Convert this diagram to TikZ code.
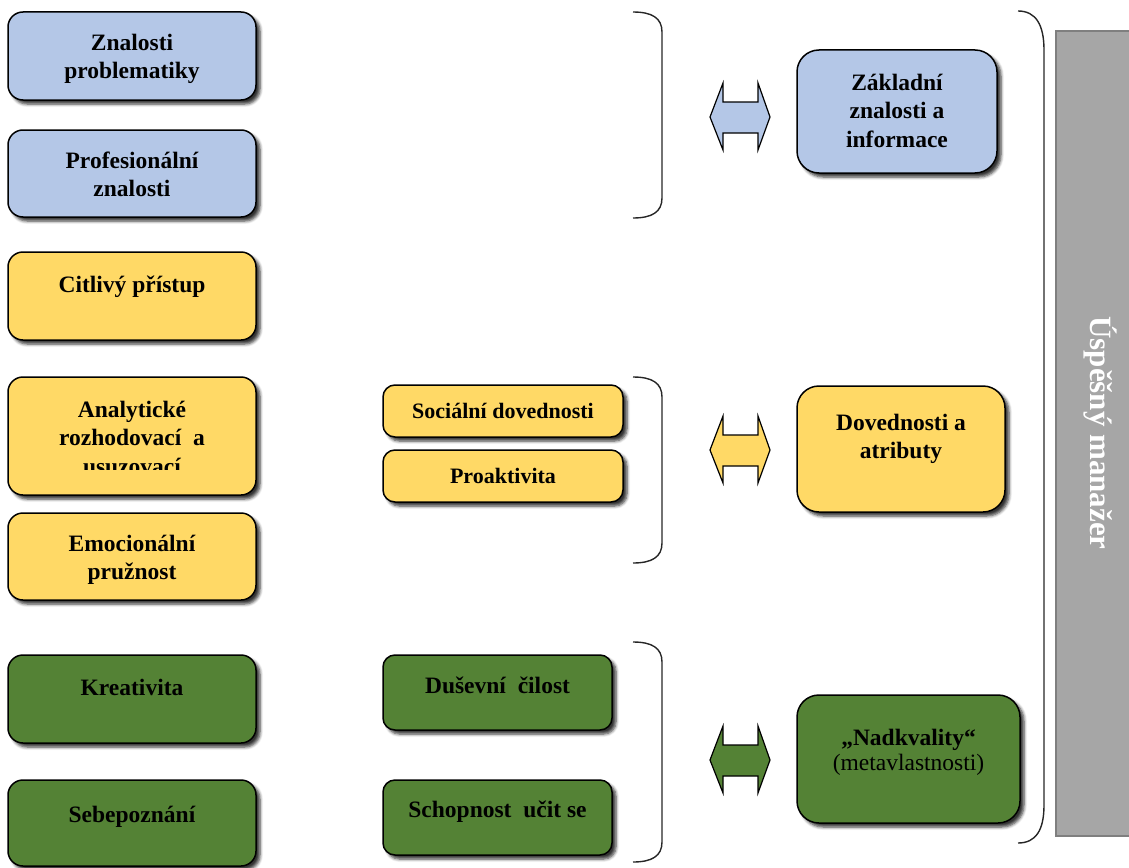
\documentclass[tikz,border=0pt]{standalone}
\usepackage{fontspec}
\setmainfont{Liberation Serif}
\usetikzlibrary{shadows.blur}

\definecolor{kblue}{HTML}{B4C7E7}
\definecolor{kyellow}{HTML}{FFD966}
\definecolor{kgreen}{HTML}{548235}
\definecolor{kgray}{HTML}{A6A6A6}
\definecolor{kgrayline}{HTML}{7F7F7F}

% invisible strut fixing the height of the first text line
\newcommand{\Ltop}{\rule{0pt}{24pt}}

\tikzset{
  card/.style={draw=black, line width=1.5pt, rectangle, rounded corners=15pt,
    inner sep=0pt,
    blur shadow={shadow xshift=4pt, shadow yshift=-4pt, shadow blur steps=5,
      shadow blur radius=3pt, shadow opacity=80}},
  bigcard/.style={card, rounded corners=22pt},
  smallcard/.style={card, rounded corners=12pt},
  lbl/.style={inner sep=0pt, align=center, anchor=north,
    font=\fontsize{23.5}{28.5}\selectfont\bfseries},
  smalllbl/.style={lbl, font=\fontsize{22}{28}\selectfont\bfseries},
  brace/.style={draw=black!85, line width=1.4pt},
  dblarrow/.pic={
    \path[pic actions] (-30,0) -- (-17,-34) -- (-17,-15) -- (18,-15) -- (18,-34)
      -- (30,0) -- (18,33) -- (18,16) -- (-17,16) -- (-17,33) -- cycle;
  }
}

\begin{document}
\begin{tikzpicture}[x=1pt,y=-1pt]
\useasboundingbox (0,0) rectangle (1129,867);

% ---- left column ----
\node[card, fill=kblue, minimum width=248pt, minimum height=88pt] (zn) at (132,56) {};
\node[lbl] (znt) at (132,26) {\Ltop Znalosti\\problematiky};

\node[card, fill=kblue, minimum width=248pt, minimum height=87pt] (pz) at (132,173.5) {};
\node[lbl] (pzt) at (132,144) {\Ltop Profesionální\\znalosti};

\node[card, fill=kyellow, minimum width=248pt, minimum height=88pt] (cp) at (132,296) {};
\node[lbl] (cpt) at (132,268) {\Ltop Citlivý přístup};

\node[card, fill=kyellow, minimum width=248pt, minimum height=118pt] (an) at (132,436) {};
\begin{scope}
  \clip (12,380) rectangle (252,469);
  \node[lbl] (ant) at (132,393) {\Ltop Analytické\\rozhodovací\ \ a\\usuzovací};
\end{scope}

\node[card, fill=kyellow, minimum width=248pt, minimum height=87pt] (em) at (132,556.5) {};
\node[lbl] (emt) at (132,527) {\Ltop Emocionální\\pružnost};

\node[card, fill=kgreen, minimum width=248pt, minimum height=88pt] (kr) at (132,699) {};
\node[lbl] (krt) at (132,671) {\Ltop Kreativita};

\node[card, fill=kgreen, minimum width=248pt, minimum height=86pt] (sb) at (132,823) {};
\node[lbl] (sbt) at (132,798) {\Ltop Sebepoznání};

% ---- middle column ----
\node[smallcard, fill=kyellow, minimum width=240pt, minimum height=52pt] (so) at (503,411) {};
\node[smalllbl] (sot) at (503,394) {\Ltop Sociální dovednosti};

\node[smallcard, fill=kyellow, minimum width=240pt, minimum height=52pt] (pr) at (503,476) {};
\node[smalllbl] (prt) at (503,459) {\Ltop Proaktivita};

\node[smallcard, fill=kgreen, minimum width=229pt, minimum height=75pt] (du) at (497.5,692.5) {};
\node[lbl] (dut) at (497.5,669) {\Ltop Duševní\ \ čilost};

\node[smallcard, fill=kgreen, minimum width=229pt, minimum height=75pt] (sc) at (497.5,817.5) {};
\node[lbl] (sct) at (497.5,793) {\Ltop Schopnost\ \ učit se};

% ---- brackets ----
\draw[brace] (633,12) .. controls (652,12) and (662,18) .. (662,32) -- (662,198)
  .. controls (662,212) and (652,218) .. (633,218);
\draw[brace] (633,377) .. controls (652,377) and (662,383) .. (662,397) -- (662,543)
  .. controls (662,557) and (652,563) .. (633,563);
\draw[brace] (633,642) .. controls (652,642) and (662,648) .. (662,662) -- (662,842)
  .. controls (662,856) and (652,862) .. (633,862);

% ---- double arrows ----
\pic[draw=black, line width=1.2pt, fill=kblue] (ar1) at (740,117) {dblarrow};
\pic[draw=black, line width=1.2pt, fill=kyellow] (ar2) at (740,450) {dblarrow};
\pic[draw=black, line width=1.2pt, fill=kgreen] (ar3) at (740,760) {dblarrow};

% ---- right column ----
\node[bigcard, fill=kblue, minimum width=200pt, minimum height=123pt] (zk) at (897,111.5) {};
\node[lbl] (zkt) at (897,66) {\Ltop Základní\\znalosti a\\informace};

\node[bigcard, fill=kyellow, minimum width=208pt, minimum height=126pt] (dv) at (901,449) {};
\node[lbl] (dvt) at (901,406) {\Ltop Dovednosti a\\atributy};

\node[bigcard, fill=kgreen, minimum width=223pt, minimum height=128pt] (nk) at (908.5,759) {};
\node[lbl] (nkt) at (908.5,721) {\Ltop „Nadkvality“\\[-3.5pt]\mdseries(metavlastnosti)};

% ---- outer bracket and result bar ----
\draw[brace] (1018,11) .. controls (1036,11) and (1044,25) .. (1044,50) -- (1044,805)
  .. controls (1044,830) and (1036,843) .. (1018,843);

\node[draw=kgrayline, fill=kgray, line width=2pt, minimum width=85pt,
  minimum height=805pt, anchor=north west, inner sep=0pt] (um) at (1055,30) {};
\node[rotate=-90, text=white, inner sep=0pt,
  font=\fontsize{31}{31}\selectfont\bfseries] (umt) at (1100,433) {Úspěšný manažer};
\end{tikzpicture}
\end{document}
